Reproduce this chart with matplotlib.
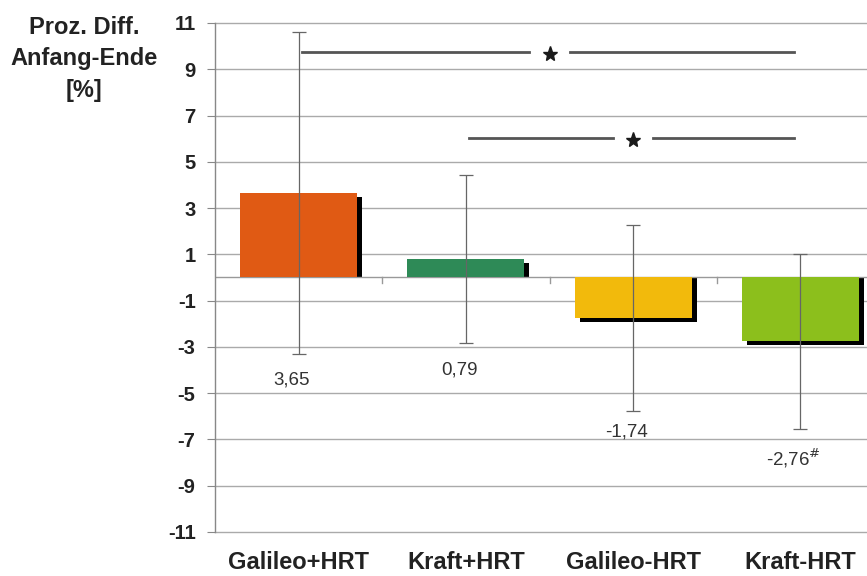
import matplotlib
matplotlib.use("Agg")
import matplotlib.pyplot as plt
from matplotlib.patches import Rectangle
import numpy as np

plt.rcParams['font.family'] = ['Liberation Sans', 'DejaVu Sans']

categories = ["Galileo+HRT", "Kraft+HRT", "Galileo-HRT", "Kraft-HRT"]
values = [3.65, 0.79, -1.74, -2.76]
errors = [6.94, 3.63, 4.02, 3.78]
value_labels = ["3,65", "0,79", "-1,74", "-2,76$^{\\#}$"]
label_y = [-4.45, -4.0, -6.68, -7.8]
colors = ["#E05A14", "#2E8A57", "#F2BA0C", "#8CBF1C"]
yticks = [11, 9, 7, 5, 3, 1, -1, -3, -5, -7, -9, -11]
# significance brackets: (start index, end index, y level)
sig_pairs = [(0, 3, 9.76), (1, 3, 6.04)]

fig = plt.figure(figsize=(8.67, 5.76), dpi=100)
ax = fig.add_axes([0.248, 0.0764, 0.7716, 0.8837])
ax.set_xlim(-0.5, 3.5)
ax.set_ylim(-11, 11)

x = np.arange(len(categories))
w = 0.70
# grid
for yt in yticks:
    ax.axhline(yt, color="#aaaaaa", lw=1.0, zorder=0, clip_on=False)

# shadows (drop shadow to the right and below)
dx, dy = 0.03, 0.17
for xi, v in zip(x, values):
    ax.add_patch(Rectangle((xi - w / 2 + dx, 0), w, v - dy, color="black", zorder=1, lw=0))
ax.bar(x, values, width=w, color=colors, zorder=2, linewidth=0)

# zero axis line with ticks between categories
ax.axhline(0, color="#999999", lw=1.0, zorder=1.5)
for b in [0.5, 1.5, 2.5]:
    ax.plot([b, b], [0, -0.25], color="#999999", lw=1.0, zorder=1.5)

ax.errorbar(x, values, yerr=errors, fmt="none", ecolor="#666666", elinewidth=0.9,
            capsize=5, capthick=0.9, zorder=3)

for xi, ly, t in zip(x, label_y, value_labels):
    ax.text(xi - 0.04, ly, t, ha="center", va="center", fontsize=13.5, color="#333333")

# significance lines
for i0, i1, yl in sig_pairs:
    mid = (x[i0] + x[i1]) / 2
    gap = 0.12
    ax.plot([x[i0] + 0.02, mid - gap], [yl, yl], color="#555555", lw=2.0, zorder=3)
    ax.plot([mid + gap, x[i1] - 0.04], [yl, yl], color="#555555", lw=2.0, zorder=3)
    ax.plot([mid], [yl - 0.1], marker="*", markersize=11, color="#1a1a1a", zorder=4)

for s in ["top", "right", "bottom"]:
    ax.spines[s].set_visible(False)
ax.spines["left"].set_color("#888888")
ax.spines["left"].set_linewidth(1.0)

ax.set_yticks(yticks)
ax.set_yticklabels([str(t) for t in yticks], fontsize=14.5, fontweight="bold", color="#222222")
ax.tick_params(axis="y", length=6, color="#888888", pad=8)
ax.set_xticks(x)
ax.set_xticklabels(categories, fontsize=17, fontweight="bold", color="#222222")
ax.tick_params(axis="x", length=0, pad=14)

fig.text(0.097, 0.973, "Proz. Diff.\nAnfang-Ende\n[%]", ha="center", va="top",
         fontsize=17, fontweight="bold", color="#222222", linespacing=1.48)

fig.savefig("out.png", dpi=100)
